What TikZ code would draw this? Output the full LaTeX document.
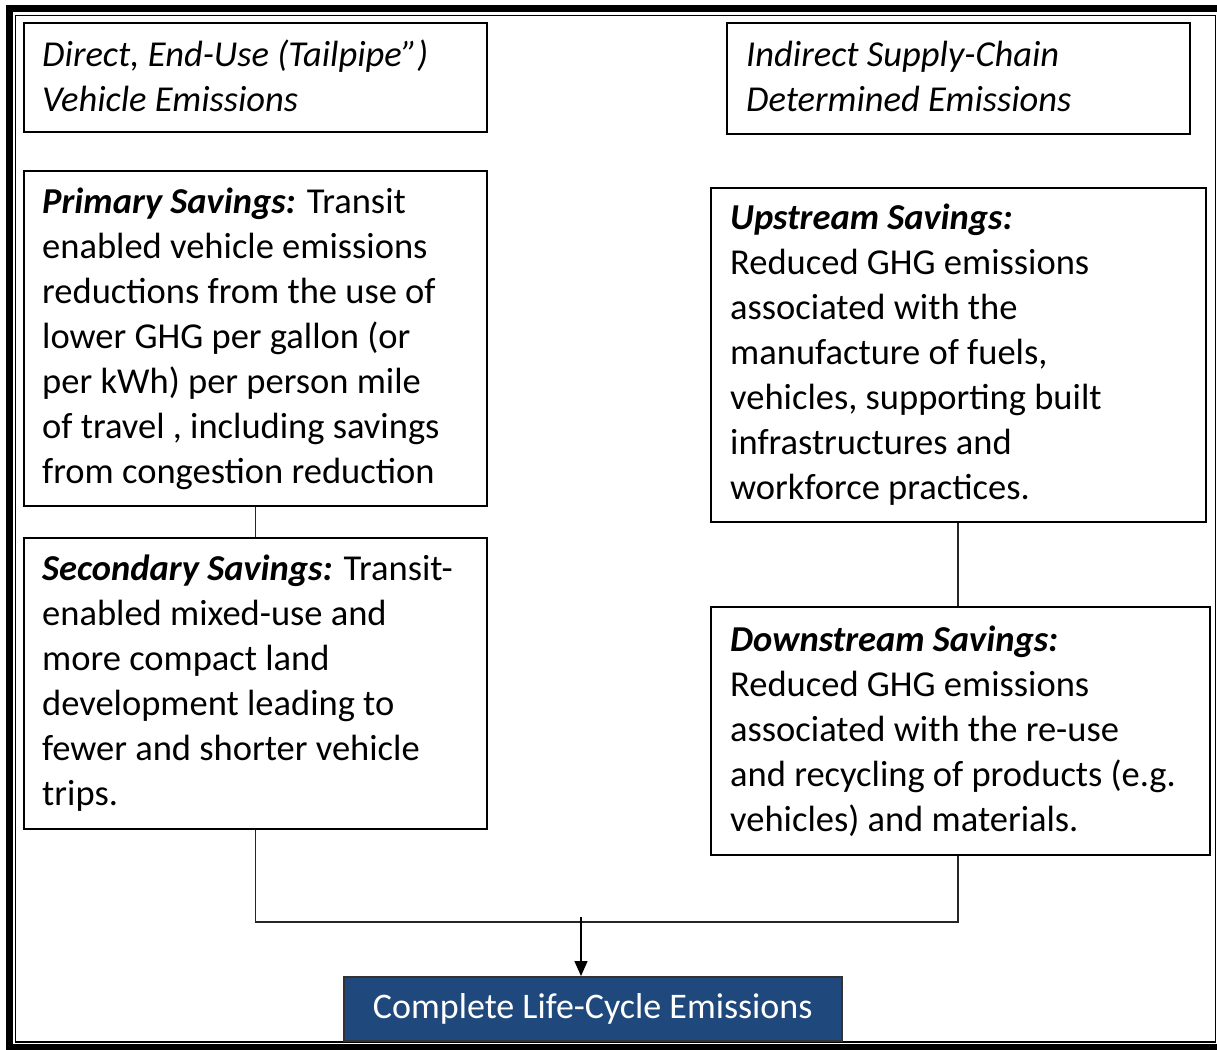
\documentclass[tikz,border=0pt]{standalone}
\usepackage{fontspec}
\setmainfont{Carlito}
\usetikzlibrary{arrows.meta}
\definecolor{lcblue}{HTML}{1F497D}
\begin{document}
\begin{tikzpicture}[x=1pt,y=-1pt,
  box/.style={draw=black, line width=1.8pt, anchor=north west, inner sep=0pt},
  txt/.style={anchor=west, inner sep=0pt, align=left, font=\fontsize{36.5}{45}\selectfont},
  conn/.style={draw=black!85, line width=1.8pt},
  arr/.style={draw=black, line width=1.5pt, -{Triangle[length=15pt,width=13pt]}}]
\useasboundingbox (0,0) rectangle (1217,1049);
\begin{scope}
\clip (0,0) rectangle (1217,1049);
\draw[line width=7pt] (9,8.5) rectangle (1235,1047.5);
\draw[line width=1.3pt] (15.5,15.5) rectangle (1215.5,1042);
\end{scope}
% boxes
\node[box, minimum width=463pt, minimum height=109pt] (a) at (23,22) {};
\node[txt, xshift=19pt, yshift=1.5pt] (ta) at (a.west) {\textit{Direct, End-Use (Tailpipe”)}\\\textit{Vehicle Emissions}};
\node[box, minimum width=463pt, minimum height=111pt] (b) at (726,22) {};
\node[txt, xshift=20pt, yshift=1.5pt] (tb) at (b.west) {\textit{Indirect Supply-Chain}\\\textit{Determined Emissions}};
\node[box, minimum width=463pt, minimum height=335pt] (c) at (23,170) {};
\node[txt, xshift=19pt] (tc) at (c.west) {\textbf{\textit{Primary Savings:}} Transit\\enabled vehicle emissions\\reductions from the use of\\lower GHG per gallon (or\\per kWh) per person mile\\of travel , including savings\\from congestion reduction};
\node[box, minimum width=463pt, minimum height=291pt] (d) at (23,537) {};
\node[txt, xshift=19pt] (td) at (d.west) {\textbf{\textit{Secondary Savings:}} Transit-\\enabled mixed-use and\\more compact land\\development leading to\\fewer and shorter vehicle\\trips.};
\node[box, minimum width=495pt, minimum height=334pt] (e) at (710,187) {};
\node[txt, xshift=20pt] (te) at (e.west) {\textbf{\textit{Upstream Savings:}}\\Reduced GHG emissions\\associated with the\\manufacture of fuels,\\vehicles, supporting built\\infrastructures and\\workforce practices.};
\node[box, minimum width=499pt, minimum height=248pt] (f) at (710,606) {};
\node[txt, xshift=20pt] (tf) at (f.west) {\textbf{\textit{Downstream Savings:}}\\Reduced GHG emissions\\associated with the re-use\\and recycling of products (e.g.\\vehicles) and materials.};
\node[box, fill=lcblue, draw=black!80, line width=1.5pt, minimum width=498pt, minimum height=64pt, text=white, font=\fontsize{36}{40}\selectfont] (g) at (343,976) {Complete Life-Cycle Emissions};
% connectors
\coordinate (j) at (581,922);
\coordinate (jt) at (581,917);
\draw[conn] (c.south) -- (c.south |- d.north);
\draw[conn] (e.south -| 958,0) -- (958,0 |- f.north);
\draw[conn] (d.south) -- (d.south |- j) -- (j -| 958,0) -- (958,0 |- f.south);
\draw[arr] (jt) -- (jt |- g.north);
\end{tikzpicture}
\end{document}
